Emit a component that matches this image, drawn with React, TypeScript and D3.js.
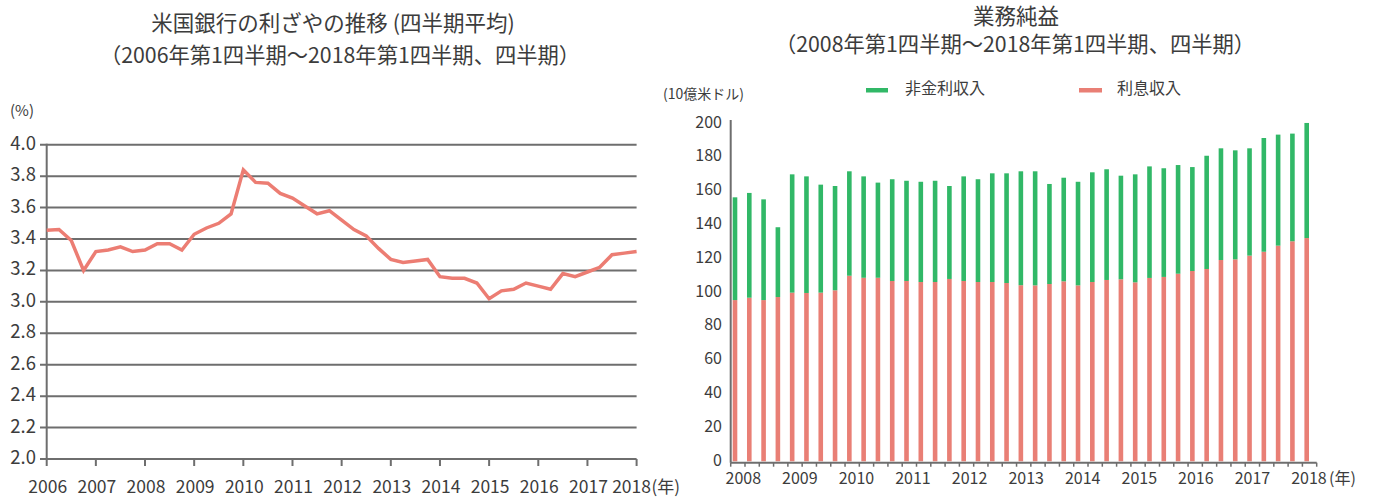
import React from "react";
import * as d3 from "d3";

// ---------- Left chart data: net interest margin, 2006Q1..2018Q1 ----------
const marginValues: number[] = [
  3.455, 3.46, 3.39, 3.2, 3.32, 3.33, 3.35, 3.32, 3.33, 3.37, 3.37, 3.33,
  3.43, 3.47, 3.5, 3.56, 3.84, 3.76, 3.755, 3.69, 3.66, 3.61, 3.56, 3.58,
  3.52, 3.46, 3.42, 3.34, 3.27, 3.25, 3.26, 3.27, 3.16, 3.15, 3.15, 3.12,
  3.02, 3.07, 3.08, 3.12, 3.1, 3.08, 3.18, 3.16, 3.19, 3.22, 3.3, 3.31, 3.32,
];
const leftYears: number[] = [2006, 2007, 2008, 2009, 2010, 2011, 2012, 2013, 2014, 2015, 2016, 2017, 2018];
const leftYTicks: number[] = [2.0, 2.2, 2.4, 2.6, 2.8, 3.0, 3.2, 3.4, 3.6, 3.8, 4.0];

// ---------- Right chart data: 2008Q1..2018Q1 (billion USD) ----------
const interestIncome: number[] = [
  95.4, 96.8, 95.4, 97.2, 99.8, 99.6, 99.8, 101.2, 109.8, 108.6, 108.6, 106.7,
  106.7, 106.1, 106.1, 107.9, 106.7, 106.1, 106.1, 105.5, 104.2, 104.1, 104.9,
  106.5, 104.1, 106.1, 107.3, 107.7, 105.9, 108.5, 109.1, 111.0, 112.6, 113.8,
  119.1, 119.5, 121.7, 124.0, 127.6, 130.2, 132.1,
];
const nonInterestIncome: number[] = [
  60.8, 62.0, 59.6, 41.3, 70.0, 69.0, 63.9, 61.7, 61.8, 60.0, 56.3, 60.2,
  59.3, 59.3, 59.9, 55.0, 61.9, 60.8, 64.3, 64.9, 67.4, 67.5, 59.2, 61.3,
  61.3, 64.9, 65.5, 61.3, 63.9, 66.0, 64.3, 64.3, 61.5, 67.0, 66.1, 64.5,
  63.5, 67.3, 65.7, 63.7, 68.1,
];
const rightYears: number[] = [2008, 2009, 2010, 2011, 2012, 2013, 2014, 2015, 2016, 2017, 2018];
const rightYTicks: number[] = [0, 20, 40, 60, 80, 100, 120, 140, 160, 180, 200];
const seriesNames: string[] = ["非金利収入", "利息収入"];

const FONT = "'Noto Sans CJK JP', 'Noto Sans', sans-serif";
const TEXT = "#3c3c3c";
const GRID = "#6e6e6e";
const LINE = "#ec7d73";
const GREEN = "#31b867";
const RED = "#e97f75";

export default function App() {
  // Left scales
  const lx = d3.scaleLinear().domain([0, marginValues.length - 1]).range([46.7, 636.6]);
  const ly = d3.scaleLinear().domain([2.0, 4.0]).range([459, 144.7]);
  const linePath = d3
    .line<number>()
    .x((_, i) => lx(i))
    .y((d) => ly(d))(marginValues) as string;

  // Right scales
  const n = interestIncome.length;
  const rx = d3.scaleBand<number>().domain(d3.range(n)).range([730.7, 1316.7]).paddingInner(0).paddingOuter(0);
  const ry = d3.scaleLinear().domain([0, 200]).range([461.3, 123.3]);
  const bw = rx.bandwidth();
  const barW = 4.6;
  const barOff = 2;
  const rLabel = d3.scaleLinear().domain([2008, 2018]).range([(rx(0) as number) + 12.6, (rx(n - 1) as number) + 6.6]);
  const axisY = 462.7;

  return (
    <svg
      width={1373}
      height={500}
      style={{ position: "absolute", left: 0, top: 0, background: "#fff" }}
      fontFamily={FONT}
    >
      {/* ---------- Left chart ---------- */}
      <text x={333} y={25} textAnchor="middle" dominantBaseline="middle" fontSize={21.5} fill={TEXT}>
        米国銀行の利ざやの推移 (四半期平均)
      </text>
      <text x={340} y={57} textAnchor="middle" dominantBaseline="middle" fontSize={21.3} fill={TEXT}>
        （2006年第1四半期～2018年第1四半期、四半期）
      </text>
      <text x={10} y={112} dominantBaseline="middle" fontSize={15} fill={TEXT}>
        (%)
      </text>
      {leftYTicks.map((t) => (
        <g key={"lg" + t}>
          <line x1={40} x2={lx(marginValues.length - 1)} y1={ly(t)} y2={ly(t)} stroke={GRID} strokeWidth={2} />
          <text x={36} y={ly(t)} textAnchor="end" dominantBaseline="middle" fontSize={18.5} fill={TEXT}>
            {t.toFixed(1)}
          </text>
        </g>
      ))}
      <line x1={lx(0)} x2={lx(0)} y1={ly(4.0) - 1} y2={ly(2.0)} stroke={GRID} strokeWidth={2} />
      {leftYears.map((yr, k) => (
        <g key={"lx" + yr}>
          <line x1={lx(k * 4)} x2={lx(k * 4)} y1={ly(2.0)} y2={ly(2.0) + 7} stroke={GRID} strokeWidth={2} />
          <text
            x={lx(k * 4) + (k === leftYears.length - 1 ? -5 : 1)}
            y={488}
            textAnchor="middle"
            dominantBaseline="middle"
            fontSize={17.5}
            fill={TEXT}
          >
            {yr}
          </text>
        </g>
      ))}
      <text x={lx(marginValues.length - 1) + 15} y={488} dominantBaseline="middle" fontSize={17} fill={TEXT}>
        (年)
      </text>
      <path d={linePath} fill="none" stroke={LINE} strokeWidth={3.5} strokeLinejoin="miter" />

      {/* ---------- Right chart ---------- */}
      <text x={1016} y={18} textAnchor="middle" dominantBaseline="middle" fontSize={21.5} fill={TEXT}>
        業務純益
      </text>
      <text x={1015} y={46} textAnchor="middle" dominantBaseline="middle" fontSize={21.3} fill={TEXT}>
        （2008年第1四半期～2018年第1四半期、四半期）
      </text>
      <text x={663} y={95} dominantBaseline="middle" fontSize={14} fill={TEXT}>
        (10億米ドル)
      </text>
      {/* legend */}
      <rect x={866} y={88} width={22} height={4.5} fill={GREEN} />
      <text x={905} y={90} dominantBaseline="middle" fontSize={16} fill={TEXT}>
        {seriesNames[0]}
      </text>
      <rect x={1079} y={88} width={23} height={4.5} fill={RED} />
      <text x={1117} y={90} dominantBaseline="middle" fontSize={16} fill={TEXT}>
        {seriesNames[1]}
      </text>

      {rightYTicks.map((t) => (
        <text key={"ry" + t} x={722} y={ry(t)} textAnchor="end" dominantBaseline="middle" fontSize={16} fill={TEXT}>
          {t}
        </text>
      ))}

      {interestIncome.map((v, i) => {
        const x = (rx(i) as number) + barOff;
        const top = v + nonInterestIncome[i];
        return (
          <g key={"bar" + i}>
            <rect x={x} y={ry(v)} width={barW} height={ry(0) - ry(v)} fill={RED} />
            <rect x={x} y={ry(top)} width={barW} height={ry(v) - ry(top)} fill={GREEN} />
          </g>
        );
      })}

      <line x1={rx(0) as number} x2={rx(0) as number} y1={120} y2={axisY} stroke={GRID} strokeWidth={2} />
      <line x1={rx(0) as number} x2={(rx(n - 1) as number) + bw} y1={axisY} y2={axisY} stroke={GRID} strokeWidth={2} />
      {d3.range(n + 1).map((i) => {
        const x = (rx(0) as number) + i * bw;
        return <line key={"rt" + i} x1={x} x2={x} y1={axisY} y2={axisY + 4} stroke={GRID} strokeWidth={1.5} />;
      })}
      {rightYears.map((yr) => (
        <text key={"rx" + yr} x={rLabel(yr)} y={480} textAnchor="middle" dominantBaseline="middle" fontSize={16} fill={TEXT}>
          {yr}
        </text>
      ))}
      <text x={1329} y={480} dominantBaseline="middle" fontSize={16} fill={TEXT}>
        (年)
      </text>
    </svg>
  );
}
